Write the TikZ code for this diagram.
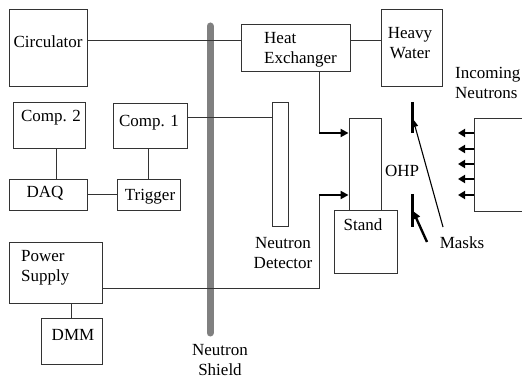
\documentclass[tikz,border=0pt]{standalone}
\usepackage{fontspec}
\setmainfont{Liberation Serif}
\usetikzlibrary{arrows.meta,calc}
\begin{document}
\begin{tikzpicture}[x=1pt,y=-1pt,
  every node/.style={font=\rmfamily\fontsize{17}{19.5}\selectfont, inner sep=0pt},
  box/.style={draw=black!80, line width=0.9pt, rectangle},
  wire/.style={draw=black!80, line width=0.9pt},
  thickarrow/.style={draw=black, line width=2.2pt, -{Triangle[length=8pt,width=8pt]}},
  mask/.style={draw=black, line width=3pt},
  txt/.style={align=center}]
\useasboundingbox (0,0) rectangle (522,379);
% boxes
\node[box, minimum width=78pt, minimum height=77pt] (circ) at (48,47.5) {};
\node[box, minimum width=109pt, minimum height=47pt] (he) at (295.5,47.5) {};
\node[box, minimum width=61pt, minimum height=77pt] (hw) at (411.5,47.5) {};
\node[box, minimum width=72pt, minimum height=46pt] (c2) at (49,125) {};
\node[box, minimum width=74pt, minimum height=45pt] (c1) at (150,125.5) {};
\node[box, minimum width=78pt, minimum height=31pt] (daq) at (48,194.5) {};
\node[box, minimum width=63pt, minimum height=31pt] (trig) at (148.5,194.5) {};
\node[box, minimum width=93pt, minimum height=61pt] (ps) at (55.5,272.5) {};
\node[box, minimum width=61pt, minimum height=46pt] (dmm) at (71.5,341) {};
\node[box, minimum width=16pt, minimum height=124pt] (det) at (280,164) {};
\node[box, minimum width=32pt, minimum height=92pt] (col) at (365,164) {};
\node[box, minimum width=63pt, minimum height=63pt] (stand) at (365.5,241.5) {};
% texts
\node (tcirc) at (48,42) {Circulator};
\node[anchor=west, align=left] (the) at (264,50) {Heat\\Exchanger};
\node[txt] (thw) at (410,43) {Heavy\\Water};
\node (tc2) at (51,118) {Comp. 2};
\node (tc1) at (149,123) {Comp. 1};
\node (tdaq) at (45,193) {DAQ};
\node (ttrig) at (150,197) {Trigger};
\node[anchor=west, align=left] (tps) at (21,268) {Power\\Supply};
\node (tdmm) at (73,335) {DMM};
\node (tstand) at (363,225) {Stand};
\node[txt] (tshield) at (220,360) {Neutron\\Shield};
\node[txt] (tdet) at (283,253) {Neutron\\Detector};
\node[anchor=west, align=left] (tin) at (455,83) {Incoming\\Neutrons};
\node (tohp) at (402,171) {OHP};
\node (tmasks) at (462,243) {Masks};
% shield
\coordinate (sh1) at (210,26);
\coordinate (sh2) at (210,333);
\draw[draw=black!50, line width=7pt, line cap=round] (sh1) -- (sh2);
% wires
\draw[wire] (circ.east |- 0,40) -- (he.west |- 0,40);
\draw[wire] (he.east |- 0,40) -- (hw.west |- 0,40);
\draw[wire] (c1.east |- 0,117) -- (det.west |- 0,117);
\draw[wire] (c2.south -| 56,0) -- (daq.north -| 56,0);
\draw[wire] (c1.south -| 148,0) -- (trig.north -| 148,0);
\draw[wire] (daq.east |- 0,194) -- (trig.west |- 0,194);
\draw[wire] (ps.south -| 71,0) -- (dmm.north -| 71,0);
\coordinate (j1) at (319,133);
\coordinate (j2) at (319,195);
\draw[wire] (he.south -| j1) -- (j1);
\draw[wire] (ps.east |- 0,288) -| (j2);
\draw[thickarrow] (j1) -- (col.west |- j1);
\draw[thickarrow] (j2) -- (col.west |- j2);
% incoming neutrons box
\coordinate (nb1) at (522,118);
\coordinate (nb2) at (474,118);
\coordinate (nb3) at (474,211);
\coordinate (nb4) at (522,211);
\draw[wire] (nb1) -- (nb2) -- (nb3) -- (nb4);
\foreach \yy/\nm in {133/a,149/b,164/c,179/d,195/e}{
  \coordinate (ns\nm) at (474,\yy);
  \coordinate (ne\nm) at (458,\yy);
  \draw[thickarrow, -{Triangle[length=7pt,width=8pt]}] (ns\nm) -- (ne\nm);
}
% masks
\coordinate (m1a) at (412,102);
\coordinate (m1b) at (412,133);
\coordinate (m2a) at (412,194);
\coordinate (m2b) at (412,227);
\draw[mask] (m1a) -- (m1b);
\draw[mask] (m2a) -- (m2b);
\coordinate (p1s) at (443,227);
\coordinate (p1e) at (413,119);
\coordinate (p2s) at (427,242);
\coordinate (p2e) at (413,211);
\draw[draw=black, line width=1.1pt, -{Triangle[length=8pt,width=6pt]}] (p1s) -- (p1e);
\draw[draw=black, line width=2.4pt, -{Triangle[length=8pt,width=8pt]}] (p2s) -- (p2e);
\end{tikzpicture}
\end{document}
